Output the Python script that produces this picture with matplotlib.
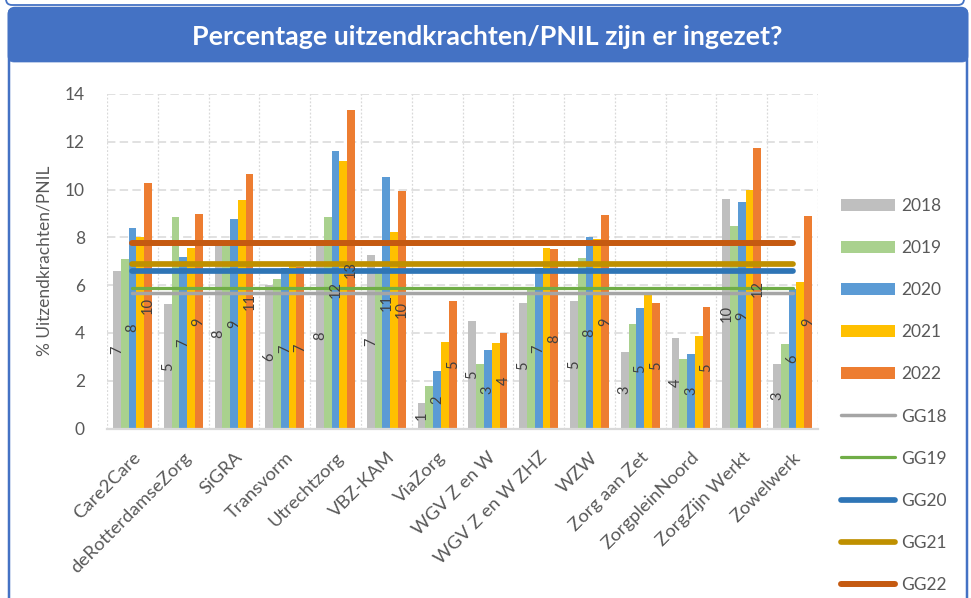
# -*- coding: UTF-8 -*-
"""
Percentage uitzendkrachten/PNIL per organisatie, 2018-2022, met gemiddelden (GG)
"""
import matplotlib
matplotlib.use("Agg")
import matplotlib.pyplot as plt
import numpy as np
from matplotlib.patches import FancyBboxPatch, Patch
from matplotlib.lines import Line2D
from matplotlib.transforms import IdentityTransform

plt.rcParams['font.family'] = ['Lato', 'DejaVu Sans']

categories = ["Care2Care", "deRotterdamseZorg", "SiGRA", "Transvorm", "Utrechtzorg",
              "VBZ-KAM", "ViaZorg", "WGV Z en W", "WGV Z en W ZHZ", "WZW",
              "Zorg aan Zet", "ZorgpleinNoord", "ZorgZijn Werkt", "Zowelwerk"]

v2018 = [6.6, 5.2, 7.9, 6.0, 7.8, 7.25, 1.05, 4.51, 5.24, 5.35, 3.21, 3.8, 9.62, 2.71]
v2019 = [7.1, 8.86, 7.8, 6.24, 8.86, 6.6, 1.79, 2.7, 5.9, 7.14, 4.36, 2.92, 8.49, 3.52]
v2020 = [8.4, 7.16, 8.78, 6.7, 11.61, 10.54, 2.41, 3.28, 6.7, 8.03, 5.03, 3.12, 9.46, 5.82]
v2021 = [8.03, 7.57, 9.55, 6.8, 11.2, 8.22, 3.63, 3.56, 7.56, 7.93, 5.59, 3.87, 9.98, 6.13]
v2022 = [10.28, 8.96, 10.65, 6.75, 13.33, 9.92, 5.33, 3.98, 7.52, 8.93, 5.24, 5.07, 11.74, 8.89]

years = ["2018", "2019", "2020", "2021", "2022"]
gg_names = ["GG18", "GG19", "GG20", "GG21", "GG22"]
gg_values = [5.67, 5.87, 6.61, 6.87, 7.78]

bar_colors = ["#BFBFBF", "#A9D18E", "#5B9BD5", "#FFC000", "#ED7D31"]
gg_colors = ["#A5A5A5", "#70AD47", "#2E75B6", "#BF9000", "#C55A11"]
gg_widths = [2.5, 2.3, 4.1, 4.1, 4.3]
labelled = [True, False, True, False, True]   # alleen 2018, 2020, 2022 hebben labels

W, H = 971, 598
fig = plt.figure(figsize=(W / 100, H / 100), dpi=100)
fig.patch.set_facecolor("white")

# kaders (pixel coordinaten)
blue = "#4472C4"
prev = FancyBboxPatch((6, 593), 958, 60, boxstyle="round,pad=0,rounding_size=6",
                      transform=IdentityTransform(), facecolor="white",
                      edgecolor=blue, lw=1.3, zorder=-10)
panel = FancyBboxPatch((9, -30), 958, 620, boxstyle="round,pad=0,rounding_size=6",
                       transform=IdentityTransform(), facecolor="white",
                       edgecolor=blue, lw=1.8, zorder=-9)
titlebar = FancyBboxPatch((8, 536), 960, 54, boxstyle="round,pad=0,rounding_size=6",
                          transform=IdentityTransform(), facecolor=blue,
                          edgecolor=blue, lw=0.5, zorder=-8)
for p in (prev, panel, titlebar):
    fig.add_artist(p)

fig.text(487 / W, 1 - 37 / H, "Percentage uitzendkrachten/PNIL zijn er ingezet?",
         ha="center", va="center", color="white", fontsize=19.3, fontweight="bold")

ax = fig.add_axes([107 / W, 1 - 428.5 / H, (818 - 107) / W, (428.5 - 94) / H])
ax.set_facecolor("none")

x = np.arange(len(categories))
w = 0.153
series = [v2018, v2019, v2020, v2021, v2022]
for i, vals in enumerate(series):
    xs = x + (i - 2) * w
    ax.bar(xs, vals, width=w, color=bar_colors[i], zorder=2)
    if labelled[i]:
        for xi, v in zip(xs, vals):
            ax.text(xi, v / 2, "%.0f" % v, rotation=90, ha="center", va="center",
                    fontsize=10.5, color="#404040", zorder=5)

for name, val, c, lw in zip(gg_names, gg_values, gg_colors, gg_widths):
    ax.plot(x, [val] * len(x), color=c, lw=lw, solid_capstyle="round", zorder=3)

ax.set_xlim(-0.5, len(categories) - 0.5)
ax.set_ylim(0, 14)
ax.set_yticks(range(0, 15, 2))

# rasterlijnen
for yv in range(2, 15, 2):
    ax.axhline(yv, color="#D9D9D9", lw=1.1, dashes=(5.5, 2.8), zorder=1)
for b in np.arange(-0.5, len(categories), 1):
    ax.axvline(b, color="#D9D9D9", lw=0.9, dashes=(1.5, 1.5), zorder=1)

for s in ["top", "right", "left"]:
    ax.spines[s].set_visible(False)
ax.spines["bottom"].set_color("#D9D9D9")
ax.spines["bottom"].set_linewidth(1.6)
ax.spines["bottom"].set_zorder(4)

ax.set_xticks(x)
ax.set_xticklabels(categories, rotation=45, ha="right", va="top",
                   rotation_mode="anchor", fontsize=13.3, color="#595959")
ax.tick_params(axis="x", length=0, pad=15)
ax.tick_params(axis="y", length=0, pad=16, labelsize=12.5, labelcolor="#595959")

ax.set_ylabel("% Uitzendkrachten/PNIL", fontsize=12.5, color="#595959")
ax.yaxis.set_label_coords(-0.076, 0.5)

handles = [Patch(facecolor=c) for c in bar_colors]
handles += [Line2D([0], [0], color=c, lw=lw, solid_capstyle="round")
            for c, lw in zip(gg_colors, gg_widths)]
fig.legend(handles, years + gg_names, loc="center left",
           bbox_to_anchor=(841 / W, 1 - 395.5 / H), frameon=False,
           borderpad=0, borderaxespad=0, handlelength=3.1, handleheight=0.7,
           handletextpad=0.35, labelspacing=1.5, fontsize=12.5, labelcolor="#595959")

fig.savefig("out.png", dpi=100)
